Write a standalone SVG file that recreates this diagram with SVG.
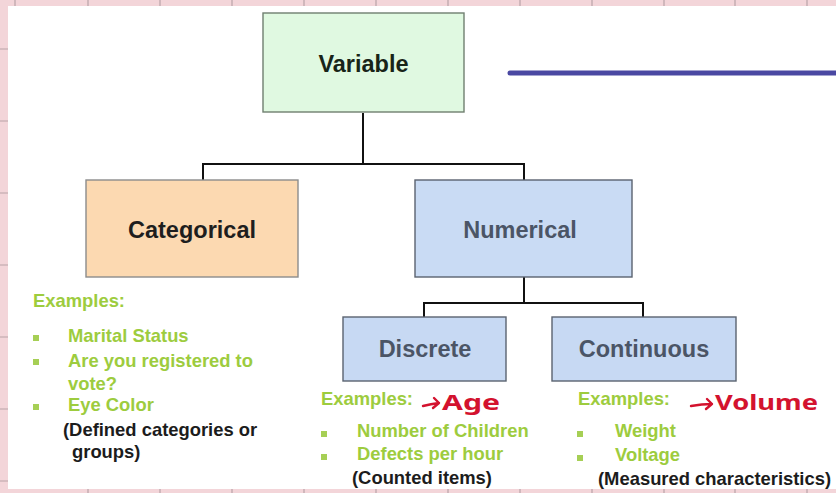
<svg xmlns="http://www.w3.org/2000/svg" width="836" height="493" viewBox="0 0 836 493">
<style>
.frame{fill:#f3d5d9}
.tick{stroke:#b9a4a8;stroke-width:1.2}
.box{stroke-width:1.4}
.hdr{font-family:"Liberation Sans",Arial,sans-serif;font-weight:bold;font-size:23.5px;text-anchor:middle}
.ex{font-family:"Liberation Sans",Arial,sans-serif;font-weight:bold;font-size:18.4px;fill:#9dcc3e}
.note{font-family:"Liberation Sans",Arial,sans-serif;font-weight:bold;font-size:18.4px;fill:#1c1c1c}
.bul{fill:#a6cf55}
.conn{fill:none;stroke:#111;stroke-width:2}
.hand{font-family:"Noto Sans",sans-serif;font-weight:bold;fill:#d3122e}
.harrow{fill:none;stroke:#d3122e;stroke-width:2.4;stroke-linecap:round;stroke-linejoin:round}
</style>
<rect x="0" y="0" width="836" height="493" class="frame"/>
<rect x="8" y="6" width="828" height="483" fill="#ffffff"/>
<g id="ticks">
<path class="tick" d="M15 0V6M88 0V6M160 0V6M232 0V6M304 0V6M376 0V6M448 0V6M520 0V6M592 0V6M664 0V6M735 0V6M807 0V6"/>
<path class="tick" d="M0 49H8M0 121H8M0 193H8M0 265H8M0 337H8M0 409H8M0 481H8"/>
<path class="tick" d="M88 489V493M160 489V493M232 489V493M304 489V493M376 489V493M448 489V493M520 489V493M592 489V493M664 489V493M735 489V493M807 489V493"/>
</g>
<line x1="510" y1="73" x2="836" y2="73" stroke="#4a48a2" stroke-width="5" stroke-linecap="round"/>
<g id="connectors">
<path class="conn" d="M363 113V164M203 180V164H524V180"/>
<path class="conn" d="M524 277V303M424 317V303H643V317"/>
</g>
<g id="variable">
<rect class="box" x="263" y="13" width="201" height="99" fill="#e0f9e1" stroke="#6f7f70"/>
<text class="hdr" x="363.5" y="72" fill="#182418">Variable</text>
</g>
<g id="categorical">
<rect class="box" x="86" y="180" width="212" height="97" fill="#fcd9b1" stroke="#8c8c8c"/>
<text class="hdr" x="192" y="238" fill="#1e1e1e">Categorical</text>
</g>
<g id="numerical">
<rect class="box" x="415" y="180" width="217" height="97" fill="#c9dbf4" stroke="#5b6370"/>
<text class="hdr" x="520" y="238" fill="#4b5566">Numerical</text>
</g>
<g id="discrete">
<rect class="box" x="343" y="317" width="163" height="64" fill="#c7d9f3" stroke="#5b6370"/>
<text class="hdr" x="425" y="357" fill="#4b5566">Discrete</text>
</g>
<g id="continuous">
<rect class="box" x="552" y="317" width="184" height="64" fill="#c7d9f3" stroke="#5b6370"/>
<text class="hdr" x="644" y="357" fill="#4b5566">Continuous</text>
</g>
<g id="categorical-examples">
<text class="ex" x="33" y="307">Examples:</text>
<rect class="bul" x="33" y="335" width="6" height="6"/>
<rect class="bul" x="33" y="359" width="6" height="6"/>
<rect class="bul" x="33" y="404" width="6" height="6"/>
<text class="ex" x="68" y="342">Marital Status</text>
<text class="ex" x="68" y="367">Are you registered to</text>
<text class="ex" x="68" y="390">vote?</text>
<text class="ex" x="68" y="411">Eye Color</text>
<text class="note" x="63" y="436">(Defined categories or</text>
<text class="note" x="72" y="458">groups)</text>
</g>
<g id="discrete-examples">
<text class="ex" x="321" y="405">Examples:</text>
<path class="harrow" d="M423 406Q431 404 439 403M434 398L439 403L433 408"/>
<text class="hand" x="442" y="410" font-size="22" textLength="58" lengthAdjust="spacingAndGlyphs">Age</text>
<rect class="bul" x="321" y="431" width="6" height="6"/>
<rect class="bul" x="321" y="454" width="6" height="6"/>
<text class="ex" x="357" y="437">Number of Children</text>
<text class="ex" x="357" y="460">Defects per hour</text>
<text class="note" x="352" y="484">(Counted items)</text>
</g>
<g id="continuous-examples">
<text class="ex" x="578" y="405">Examples:</text>
<path class="harrow" d="M691 406Q702 404 712 404M707 399L712 404L706 409"/>
<text class="hand" x="715" y="410" font-size="21" textLength="103" lengthAdjust="spacingAndGlyphs">Volume</text>
<rect class="bul" x="577" y="431" width="6" height="6"/>
<rect class="bul" x="577" y="455" width="6" height="6"/>
<text class="ex" x="615" y="437">Weight</text>
<text class="ex" x="615" y="461">Voltage</text>
<text class="note" x="598" y="485">(Measured characteristics)</text>
</g>
</svg>
